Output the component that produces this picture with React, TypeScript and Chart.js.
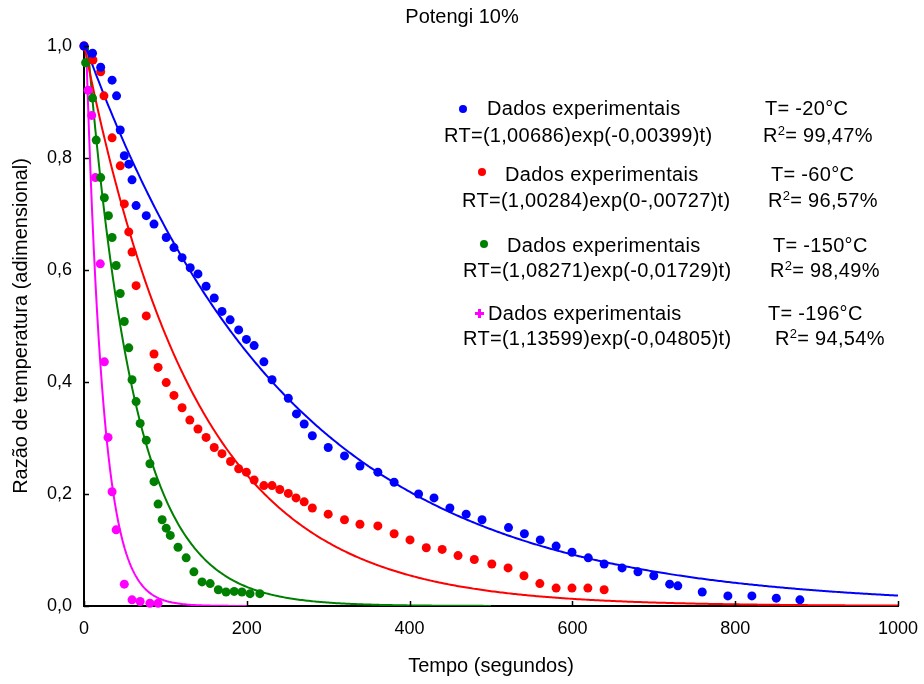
import React, { useEffect, useRef } from 'react';
import { Chart, registerables } from 'chart.js';

Chart.register(...registerables);

const FONT = '"Liberation Sans", Arial, Helvetica, sans-serif';

const chartTitle = 'Potengi 10%';
const xAxisTitle = 'Tempo (segundos)';
const yAxisTitle = 'Razão de temperatura (adimensional)';

const xTicks = [0, 200, 400, 600, 800, 1000];
const yTicks = [0, 0.2, 0.4, 0.6, 0.8, 1.0];

// T = -20 °C
const timeBlue = [0, 10.5, 20.5, 34.5, 40, 44.5, 49.5, 55, 59, 64, 76.5, 86, 101, 110.5, 120.5, 130.5, 140, 150, 160, 169.5, 179.5, 190, 199.5, 209, 221, 231, 251, 261, 270.5, 280.5, 300, 320, 339, 361, 381, 411, 430, 449.5, 469.5, 489, 521.5, 541, 560.5, 580, 599.5, 619.5, 639, 661, 680.5, 700, 719.5, 729.5, 759.5, 791, 820.5, 850.5, 879.5];
const ratioBlue = [1.0, 0.987, 0.962, 0.939, 0.911, 0.850, 0.804, 0.789, 0.761, 0.715, 0.697, 0.682, 0.658, 0.640, 0.622, 0.604, 0.593, 0.571, 0.550, 0.526, 0.511, 0.493, 0.476, 0.465, 0.436, 0.404, 0.371, 0.343, 0.325, 0.304, 0.283, 0.268, 0.250, 0.239, 0.221, 0.200, 0.193, 0.175, 0.164, 0.154, 0.140, 0.129, 0.118, 0.107, 0.096, 0.086, 0.075, 0.068, 0.061, 0.054, 0.039, 0.036, 0.025, 0.018, 0.018, 0.014, 0.011];

// T = -60 °C
const timeRed = [0, 11, 20.5, 24.5, 34.5, 44.5, 49.5, 55, 59, 64, 76.5, 86, 91, 101, 110.5, 120.5, 130, 140, 150, 160, 169.5, 180, 190, 199.5, 209, 221, 231, 240.5, 251, 260.5, 270.5, 280.5, 300, 320, 339, 361, 381, 400.5, 420.5, 440, 459.5, 479.5, 501, 521, 540.5, 560, 580, 599.5, 619, 639];
const ratioRed = [1.0, 0.975, 0.954, 0.911, 0.836, 0.786, 0.718, 0.668, 0.632, 0.572, 0.518, 0.450, 0.426, 0.399, 0.376, 0.354, 0.332, 0.316, 0.301, 0.283, 0.272, 0.258, 0.245, 0.239, 0.225, 0.215, 0.215, 0.208, 0.201, 0.193, 0.186, 0.175, 0.164, 0.154, 0.146, 0.143, 0.129, 0.118, 0.104, 0.101, 0.090, 0.083, 0.075, 0.068, 0.054, 0.040, 0.032, 0.032, 0.032, 0.029];

// T = -150 °C
const timeGreen = [2, 10.5, 15, 20.5, 25, 30, 34.5, 39.5, 44.5, 49.5, 55, 59, 64, 69, 76.5, 81, 86, 91, 96, 101, 106, 115.5, 125.5, 135, 145, 155, 165, 174.5, 184.5, 194, 204, 216];
const ratioGreen = [0.97, 0.907, 0.832, 0.765, 0.729, 0.697, 0.658, 0.608, 0.558, 0.508, 0.461, 0.404, 0.365, 0.326, 0.296, 0.254, 0.222, 0.182, 0.154, 0.139, 0.126, 0.105, 0.086, 0.061, 0.043, 0.040, 0.029, 0.025, 0.026, 0.025, 0.022, 0.022];

// T = -196 °C
const timeMagenta = [0, 5, 9.5, 14, 20, 25, 29.5, 34.5, 39.5, 49.5, 59, 69, 81, 91];
const ratioMagenta = [1.0, 0.921, 0.876, 0.765, 0.611, 0.436, 0.301, 0.204, 0.136, 0.039, 0.011, 0.008, 0.005, 0.005];

// Fitted models RT = a * exp(-k t), as printed in the legend
const fitA = [1.00686, 1.00284, 1.08271, 1.13599];
const fitK = [0.00399, 0.00727, 0.01729, 0.04805];
const fitEnd = [1000, 1000, 500, 200];

const seriesColors = ['#0000ff', '#ff0000', '#008000', '#ff00ff'];

const legendLabel = 'Dados experimentais';
const legendTemps = ['T= -20°C', 'T= -60°C', 'T= -150°C', 'T= -196°C'];
const legendEquations = [
  'RT=(1,00686)exp(-0,00399)t)',
  'RT=(1,00284)exp(0-,00727)t)',
  'RT=(1,08271)exp(-0,01729)t)',
  'RT=(1,13599)exp(-0,04805)t)',
];
const legendR2 = ['= 99,47%', '= 96,57%', '= 98,49%', '= 94,54%'];

// legend layout (pixels)
const legendRows = [
  { markerX: 463, markerY: 109, labelX: 487, labelY: 98, tempX: 765, eqX: 444, eqY: 125, r2X: 763 },
  { markerX: 482, markerY: 172, labelX: 505, labelY: 164, tempX: 771, eqX: 462, eqY: 190, r2X: 768 },
  { markerX: 484, markerY: 244, labelX: 507, labelY: 235, tempX: 773, eqX: 463, eqY: 260, r2X: 770 },
  { markerX: 479, markerY: 313, labelX: 488, labelY: 303, tempX: 768, eqX: 463, eqY: 328, r2X: 775 },
];

const dataSeries = [
  { t: timeBlue, v: ratioBlue },
  { t: timeRed, v: ratioRed },
  { t: timeGreen, v: ratioGreen },
  { t: timeMagenta, v: ratioMagenta },
];

const fitCurve = (i: number) => {
  const pts: { x: number; y: number }[] = [];
  for (let t = 0; t <= fitEnd[i]; t += 2) {
    pts.push({ x: t, y: fitA[i] * Math.exp(-fitK[i] * t) });
  }
  return pts;
};

const innerTicks = {
  id: 'innerTicks',
  afterDraw(chart: any) {
    const { ctx, chartArea, scales } = chart;
    ctx.save();
    ctx.strokeStyle = '#000';
    ctx.lineWidth = 1.5;
    scales.x.ticks.forEach((tk: any) => {
      const px = Math.round(scales.x.getPixelForValue(tk.value)) + 0.5;
      ctx.beginPath();
      ctx.moveTo(px, chartArea.bottom);
      ctx.lineTo(px, chartArea.bottom - 5);
      ctx.stroke();
    });
    scales.y.ticks.forEach((tk: any) => {
      const py = Math.round(scales.y.getPixelForValue(tk.value)) + 0.5;
      ctx.beginPath();
      ctx.moveTo(chartArea.left, py);
      ctx.lineTo(chartArea.left + 5, py);
      ctx.stroke();
    });
    ctx.restore();
  },
};

const textStyle: React.CSSProperties = {
  position: 'absolute',
  fontFamily: FONT,
  fontSize: 20,
  lineHeight: '20px',
  color: '#000',
  whiteSpace: 'nowrap',
  letterSpacing: '0.3px',
};

export default function App() {
  const canvasRef = useRef<HTMLCanvasElement | null>(null);

  useEffect(() => {
    if (!canvasRef.current) return;
    const tickFont = { family: FONT, size: 18 };
    const titleFont = { family: FONT, size: 20 };

    const pointSets = dataSeries.map((s, i) => ({
      type: 'scatter' as const,
      data: s.t.map((t, j) => ({ x: t, y: s.v[j] })),
      backgroundColor: seriesColors[i],
      borderColor: seriesColors[i],
      pointRadius: 4.5,
      pointBorderWidth: 0,
      showLine: false,
      clip: false as any,
      order: 1,
    }));
    const lineSets = dataSeries.map((_, i) => ({
      type: 'scatter' as const,
      data: fitCurve(i),
      borderColor: seriesColors[i],
      backgroundColor: seriesColors[i],
      borderWidth: 2,
      pointRadius: 0,
      showLine: true,
      fill: false,
      tension: 0,
      order: 2,
    }));

    const chart = new Chart(canvasRef.current, {
      type: 'scatter',
      data: { datasets: [...pointSets, ...lineSets] as any },
      options: {
        animation: false,
        responsive: false,
        maintainAspectRatio: false,
        devicePixelRatio: 1,
        layout: { padding: 0 },
        plugins: {
          legend: { display: false },
          tooltip: { enabled: false },
          title: {
            display: true,
            text: chartTitle,
            color: '#000',
            font: { family: FONT, size: 20, weight: 'normal' },
            padding: { top: 5, bottom: 17 },
          },
        },
        scales: {
          x: {
            type: 'linear',
            min: 0,
            max: 1000,
            afterBuildTicks: (s: any) => {
              s.ticks = xTicks.map((v) => ({ value: v }));
            },
            ticks: {
              color: '#000',
              font: tickFont,
              padding: 12,
              maxRotation: 0,
              autoSkip: false,
              callback: (v: any) => String(v),
            },
            grid: { display: true, drawOnChartArea: false, drawTicks: false },
            border: { display: true, color: '#000', width: 2 },
            title: {
              display: true,
              text: xAxisTitle,
              color: '#000',
              font: titleFont,
              padding: { top: 0, bottom: 6 },
            },
            afterFit: (s: any) => {
              s.height = 78;
              s.paddingLeft = 0;
              s.paddingRight = 26;
            },
          },
          y: {
            type: 'linear',
            min: 0,
            max: 1,
            afterBuildTicks: (s: any) => {
              s.ticks = yTicks.map((v) => ({ value: v }));
            },
            ticks: {
              color: '#000',
              font: tickFont,
              padding: 12,
              autoSkip: false,
              callback: (v: any) => Number(v).toFixed(1).replace('.', ','),
            },
            grid: { display: true, drawOnChartArea: false, drawTicks: false },
            border: { display: true, color: '#000', width: 2 },
            title: {
              display: true,
              text: yAxisTitle,
              color: '#000',
              font: titleFont,
              padding: { top: 9, bottom: 0 },
            },
            afterFit: (s: any) => {
              s.width = 84;
              s.paddingTop = 0;
              s.paddingBottom = 0;
            },
          },
        },
      } as any,
      plugins: [innerTicks],
    });
    return () => chart.destroy();
  }, []);

  return (
    <div style={{ position: 'absolute', left: 0, top: 0, width: 924, height: 684, background: '#fff' }}>
      <canvas ref={canvasRef} width={924} height={684} style={{ display: 'block' }} />
      {legendRows.map((r, i) => (
        <React.Fragment key={i}>
          {i < 3 ? (
            <div
              style={{
                position: 'absolute',
                left: r.markerX - 4,
                top: r.markerY - 4,
                width: 8,
                height: 8,
                borderRadius: 4,
                background: seriesColors[i],
              }}
            />
          ) : (
            <>
              <div style={{ position: 'absolute', left: r.markerX - 4.5, top: r.markerY - 1.5, width: 9, height: 3, background: seriesColors[i] }} />
              <div style={{ position: 'absolute', left: r.markerX - 1.5, top: r.markerY - 4.5, width: 3, height: 9, background: seriesColors[i] }} />
            </>
          )}
          <div style={{ ...textStyle, left: r.labelX, top: r.labelY }}>{legendLabel}</div>
          <div style={{ ...textStyle, left: r.tempX, top: r.labelY }}>{legendTemps[i]}</div>
          <div style={{ ...textStyle, left: r.eqX, top: r.eqY }}>{legendEquations[i]}</div>
          <div style={{ ...textStyle, left: r.r2X, top: r.eqY }}>
            R<span style={{ fontSize: 13, position: 'relative', top: -7, lineHeight: 0 }}>2</span>
            {legendR2[i]}
          </div>
        </React.Fragment>
      ))}
    </div>
  );
}
